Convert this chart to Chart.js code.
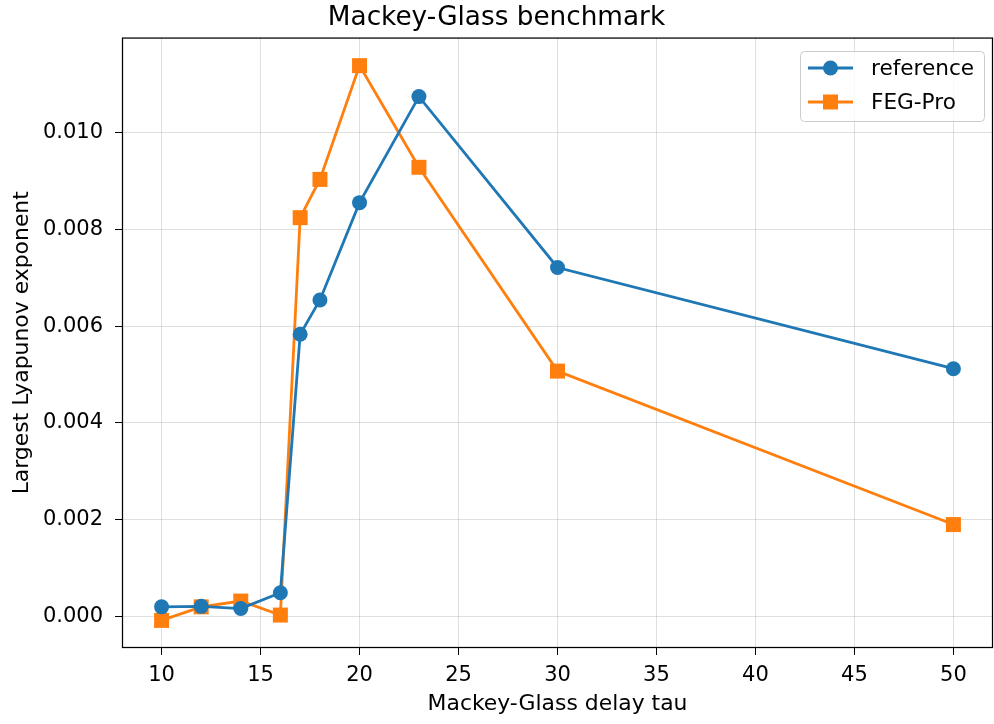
<!DOCTYPE html>
<html>
<head>
<meta charset="utf-8">
<script src="https://cdn.jsdelivr.net/npm/chart.js@4/dist/chart.umd.min.js"></script>
<style>
  html, body { margin: 0; padding: 0; background: #fff; }
  #wrap { width: 994px; height: 724px; }
</style>
</head>
<body>
<div id="wrap"><canvas id="c" width="994" height="724"></canvas></div>
<script>
const tau = [10, 12, 14, 16, 17, 18, 20, 23, 30, 50];
const referenceValues = [0.00020, 0.00021, 0.000165, 0.00049, 0.00583, 0.00654, 0.00855, 0.01074, 0.00721, 0.00512];
const fegProValues = [-0.00008, 0.00020, 0.00032, 0.00003, 0.00824, 0.00903, 0.01138, 0.00928, 0.00507, 0.0019];
const xTickValues = [10, 15, 20, 25, 30, 35, 40, 45, 50];
const yTickValues = [0, 0.002, 0.004, 0.006, 0.008, 0.010];
const seriesLabels = ['reference', 'FEG-Pro'];
const titleText = 'Mackey-Glass benchmark';
const xLabel = 'Mackey-Glass delay tau';
const yLabel = 'Largest Lyapunov exponent';

const BLUE = '#1f77b4', ORANGE = '#ff7f0e';
const FONT = "'DejaVu Sans', sans-serif";

const toPts = vals => tau.map((t, i) => ({ x: t, y: vals[i] }));

const frameAndLegend = {
  id: 'frameAndLegend',
  afterDatasetsDraw(chart) {
    const { ctx, chartArea: a } = chart;
    ctx.save();
    ctx.strokeStyle = '#000';
    ctx.lineWidth = 1.25;
    ctx.strokeRect(a.left + 0.5, a.top + 0.5, a.right - a.left - 1, a.bottom - a.top - 1);
    ctx.restore();
  },
  afterDraw(chart) {
    const { ctx } = chart;
    ctx.save();
    const bx = 800.5, by = 51.5, bw = 184, bh = 70, r = 4;
    ctx.beginPath();
    ctx.moveTo(bx + r, by);
    ctx.lineTo(bx + bw - r, by); ctx.quadraticCurveTo(bx + bw, by, bx + bw, by + r);
    ctx.lineTo(bx + bw, by + bh - r); ctx.quadraticCurveTo(bx + bw, by + bh, bx + bw - r, by + bh);
    ctx.lineTo(bx + r, by + bh); ctx.quadraticCurveTo(bx, by + bh, bx, by + bh - r);
    ctx.lineTo(bx, by + r); ctx.quadraticCurveTo(bx, by, bx + r, by);
    ctx.closePath();
    ctx.fillStyle = 'rgba(255,255,255,0.8)';
    ctx.fill();
    ctx.strokeStyle = '#cccccc';
    ctx.lineWidth = 1;
    ctx.stroke();
    const rows = [68, 102];
    chart.data.datasets.forEach((ds, i) => {
      const y = rows[i];
      ctx.strokeStyle = ds.borderColor;
      ctx.lineWidth = 2.8;
      ctx.beginPath(); ctx.moveTo(808, y); ctx.lineTo(853, y); ctx.stroke();
      ctx.fillStyle = ds.borderColor;
      if (ds.pointStyle === 'circle') {
        ctx.beginPath(); ctx.arc(830.5, y, 7.5, 0, Math.PI * 2); ctx.fill();
      } else {
        ctx.fillRect(830.5 - 7.5, y - 7.5, 15, 15);
      }
      ctx.fillStyle = '#000';
      ctx.font = "21.6px " + FONT;
      ctx.textBaseline = 'middle';
      ctx.textAlign = 'left';
      ctx.fillText(ds.label, 871, y + 1);
    });
    ctx.restore();
  }
};

new Chart(document.getElementById('c'), {
  type: 'line',
  data: {
    datasets: [
      { label: seriesLabels[0], data: toPts(referenceValues), borderColor: BLUE, backgroundColor: BLUE,
        borderWidth: 2.8, pointStyle: 'circle', pointRadius: 7.5, pointHoverRadius: 7.5, pointBorderWidth: 0, tension: 0, clip: false },
      { label: seriesLabels[1], data: toPts(fegProValues), borderColor: ORANGE, backgroundColor: ORANGE,
        borderWidth: 2.8, pointStyle: 'rect', pointRadius: 10.6, pointHoverRadius: 10.6, pointBorderWidth: 0, tension: 0, clip: false }
    ]
  },
  options: {
    responsive: false,
    animation: false,
    devicePixelRatio: 1,
    layout: { autoPadding: false, padding: { left: 0, right: 1, top: 0, bottom: 0 } },
    plugins: {
      legend: { display: false },
      tooltip: { enabled: false },
      title: { display: true, text: titleText, color: '#000',
        font: { family: FONT, size: 26.3, weight: 'normal' }, padding: { top: 2, bottom: 4 } }
    },
    scales: {
      x: {
        type: 'linear', min: 8, max: 52,
        afterBuildTicks: s => { s.ticks = xTickValues.map(v => ({ value: v })); },
        afterFit: s => { s.height = 76; s.paddingLeft = 0; s.paddingRight = 0; },
        grid: { color: 'rgba(176,176,176,0.4)', lineWidth: 1, tickColor: '#000', tickLength: 7, drawTicks: true },
        border: { display: false },
        ticks: { color: '#000', font: { family: FONT, size: 21 }, padding: 8, maxRotation: 0,
          callback: v => String(v) },
        title: { display: true, text: xLabel, color: '#000', font: { family: FONT, size: 21.9 }, padding: { top: 0, bottom: 7 } }
      },
      y: {
        type: 'linear', min: -0.00065, max: 0.01196,
        afterBuildTicks: s => { s.ticks = yTickValues.map(v => ({ value: v })); },
        afterFit: s => { s.width = 122; s.paddingTop = 0; s.paddingBottom = 0; },
        grid: { color: 'rgba(176,176,176,0.4)', lineWidth: 1, tickColor: '#000', tickLength: 7, drawTicks: true },
        border: { display: false },
        ticks: { color: '#000', font: { family: FONT, size: 21 }, padding: 12,
          callback: v => Number(v).toFixed(3) },
        title: { display: true, text: yLabel, color: '#000', font: { family: FONT, size: 21.9 }, padding: { top: 9, bottom: 0 } }
      }
    }
  },
  plugins: [frameAndLegend]
});
</script>
</body>
</html>
